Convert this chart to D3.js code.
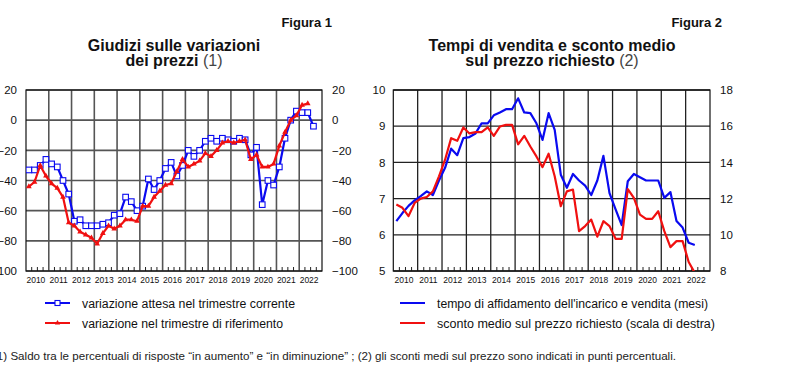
<!DOCTYPE html>
<html>
<head>
<meta charset="utf-8">
<script src="https://cdn.jsdelivr.net/npm/d3@7"></script>
<style>
  body { margin: 0; background: #fff; }
  svg { display: block; font-family: "Liberation Sans", Arial, sans-serif; }
</style>
</head>
<body>
<div id="chart"></div>
<script>
// year labels on the x axes
const yearLabels = ["2010","2011","2012","2013","2014","2015","2016","2017","2018","2019","2020","2021","2022"];

// Figura 1 - quarterly balances from 2010Q1
const attesa = [-33,-33,-30,-26,-29,-31,-40,-49,-67,-66,-70,-70,-70,-69,-68,-63,-62,-51,-54,-60,
  -57,-39,-46,-40,-32,-28,-37,-30,-20,-24,-20,-14,-12,-14,-12,-13,-14,-12,-13,-23,
  -18,-56,-40,-43,-31,-12,0,6,5,5,-4];
const riferimento = [-44,-41,-30,-37,-42,-45,-51,-68,-70,-74,-76,-78,-82,-75,-70,-72,-70,-66,-66,-67,
  -57,-57,-51,-47,-43,-42,-34,-26,-31,-29,-27,-22,-24,-20,-15,-14,-15,-14,-13,-26,
  -23,-31,-31,-29,-17,-8,0,3,10,11];
const ticks1 = [-100,-80,-60,-40,-20,0,20];

// Figura 2 - quarterly from 2010Q1
const tempo = [6.38,6.6,6.8,6.95,7.07,7.2,7.1,7.5,7.85,8.38,8.2,8.67,8.7,8.8,9.08,9.08,9.3,9.38,9.47,9.47,
  9.77,9.38,9.36,9.08,8.62,9.36,8.9,7.66,7.3,7.68,7.5,7.36,7.1,7.5,8.18,7.15,6.7,6.27,7.48,7.68,
  7.59,7.5,7.5,7.5,7.02,7.18,6.38,6.2,5.78,5.72];
const sconto = [11.67,11.49,11.03,11.76,12.0,12.09,12.4,13.23,14.15,15.34,15.19,15.93,15.6,15.67,15.67,15.94,15.47,15.98,16.07,16.07,
  15.0,15.47,14.88,14.33,13.74,14.48,13.23,11.58,12.4,12.5,10.2,10.48,10.84,9.9,10.75,10.48,9.78,9.78,12.53,12.04,
  11.12,10.88,10.88,11.3,10.2,9.32,9.65,9.65,8.5,7.9];
const ticks2L = [5,6,7,8,9,10];
const ticks2R = [8,10,12,14,16,18];

const BLUE = "#0a0af0", RED = "#f01010";
const quarterX = i => 2010 + (i + 0.5) / 4;

const svg = d3.select("#chart").append("svg")
  .attr("width", 787).attr("height", 385);

function panel(o) {
  const g = svg.append("g");
  const x = d3.scaleLinear().domain([2010, 2023]).range([o.left, o.right]);
  const yL = d3.scaleLinear().domain(o.domL).range([271, 90]);
  const yR = d3.scaleLinear().domain(o.domR).range([271, 90]);

  // grid
  g.append("g").selectAll("line").data(o.ticksL).join("line")
    .attr("x1", o.left).attr("x2", o.right)
    .attr("y1", d => yL(d)).attr("y2", d => yL(d))
    .attr("stroke", o.grid).attr("stroke-width", o.gridW);
  g.append("g").selectAll("line").data(d3.range(2011, 2023)).join("line")
    .attr("x1", d => x(d)).attr("x2", d => x(d))
    .attr("y1", 90).attr("y2", 271)
    .attr("stroke", o.grid).attr("stroke-width", o.gridW);
  // quarter ticks
  const qt = d3.range(2010, 2023).flatMap(yr => [0.25, 0.5, 0.75].map(f => yr + f));
  g.append("g").selectAll("line").data(qt).join("line")
    .attr("x1", d => x(d)).attr("x2", d => x(d))
    .attr("y1", 271).attr("y2", 267)
    .attr("stroke", "#222").attr("stroke-width", 1);
  g.append("rect").attr("x", o.left).attr("y", 90)
    .attr("width", o.right - o.left).attr("height", 181)
    .attr("fill", "none").attr("stroke", "#111").attr("stroke-width", 1.2);

  // axes
  const ax = (axis, tr) => {
    const a = g.append("g").attr("transform", tr).call(axis);
    a.select(".domain").remove();
    a.selectAll("text").attr("fill", "#111").style("font-size", "11.5px")
      .style("font-family", "'Liberation Sans', Arial, sans-serif");
    return a;
  };
  ax(d3.axisLeft(yL).tickValues(o.ticksL).tickSize(0).tickPadding(o.padL).tickFormat(d3.format("d")),
    `translate(${o.left},0)`);
  ax(d3.axisRight(yR).tickValues(o.ticksR).tickSize(0).tickPadding(10).tickFormat(d3.format("d")),
    `translate(${o.right},0)`);
  const xa = ax(d3.axisBottom(x).tickValues(d3.range(2010, 2023).map(d => d + 0.5)).tickSize(0)
      .tickPadding(6).tickFormat((d, i) => yearLabels[i]),
    `translate(-2,271)`);
  xa.selectAll("text").style("font-size", "8.5px");

  // clip
  const id = "clip" + o.n;
  svg.append("clipPath").attr("id", id).append("rect")
    .attr("x", o.left).attr("y", 90).attr("width", o.right - o.left).attr("height", 181);
  const plot = g.append("g").attr("clip-path", `url(#${id})`);

  o.series.forEach(s => {
    const y = s.axis === "R" ? yR : yL;
    plot.append("path").datum(s.values)
      .attr("fill", "none").attr("stroke", s.color).attr("stroke-width", 2.2)
      .attr("stroke-linejoin", "round")
      .attr("d", d3.line().x((d, i) => x(quarterX(i))).y(d => y(d)));
    if (s.marker === "square") {
      plot.append("g").selectAll("rect").data(s.values).join("rect")
        .attr("x", (d, i) => x(quarterX(i)) - 2.8).attr("y", d => y(d) - 2.8)
        .attr("width", 5.6).attr("height", 5.6)
        .attr("fill", "#fff").attr("stroke", s.color).attr("stroke-width", 1.1);
    } else if (s.marker === "triangle") {
      plot.append("g").selectAll("path").data(s.values).join("path")
        .attr("transform", (d, i) => `translate(${x(quarterX(i))},${y(d)})`)
        .attr("d", d3.symbol(d3.symbolTriangle, 14))
        .attr("fill", s.color);
    }
  });

  // titles
  g.append("text").attr("x", o.figX).attr("y", 27).attr("text-anchor", "end")
    .style("font-weight", "bold").style("font-size", "13px").attr("fill", "#111").text(o.fig);
  g.append("text").attr("x", o.titleX).attr("y", 50.5).attr("text-anchor", "middle")
    .style("font-weight", "bold").style("font-size", "16px").attr("fill", "#111").text(o.title[0]);
  const t2 = g.append("text").attr("x", o.titleX).attr("y", 66).attr("text-anchor", "middle")
    .style("font-size", "16px").attr("fill", "#111");
  t2.append("tspan").style("font-weight", "bold").text(o.title[1]);
  t2.append("tspan").attr("fill", "#444").text(" " + o.note);

  // legend
  o.series.forEach((s, k) => {
    const ly = 303 + k * 20;
    const lg = g.append("g");
    lg.append("line").attr("x1", o.legX).attr("x2", o.legX + 25).attr("y1", ly).attr("y2", ly)
      .attr("stroke", s.color).attr("stroke-width", 2);
    if (s.marker === "square") {
      lg.append("rect").attr("x", o.legX + 10).attr("y", ly - 2.5).attr("width", 5).attr("height", 5)
        .attr("fill", "#fff").attr("stroke", s.color).attr("stroke-width", 1.1);
    } else if (s.marker === "triangle") {
      lg.append("path").attr("transform", `translate(${o.legX + 12.5},${ly})`)
        .attr("d", d3.symbol(d3.symbolTriangle, 12)).attr("fill", s.color);
    }
    lg.append("text").attr("x", o.legTextX).attr("y", ly + 4.5).style("font-size", "12.5px")
      .attr("textLength", s.labelW).attr("lengthAdjust", "spacingAndGlyphs")
      .attr("fill", "#111").text(s.label);
  });
}

panel({
  n: 1, left: 26, right: 322, domL: [-100, 20], domR: [-100, 20],
  ticksL: ticks1, ticksR: ticks1, padL: 9, grid: "#555", gridW: 1.6,
  fig: "Figura 1", figX: 332, titleX: 174,
  title: ["Giudizi sulle variazioni", "dei prezzi"], note: "(1)",
  legX: 45, legTextX: 82,
  series: [
    { values: attesa, color: BLUE, marker: "square", axis: "L", label: "variazione attesa nel trimestre corrente", labelW: 213 },
    { values: riferimento, color: RED, marker: "triangle", axis: "L", label: "variazione nel trimestre di riferimento", labelW: 201 }
  ]
});

panel({
  n: 2, left: 393.3, right: 710, domL: [5, 10], domR: [8, 18],
  ticksL: ticks2L, ticksR: ticks2R, padL: 8, grid: "#222", gridW: 1.3,
  fig: "Figura 2", figX: 722, titleX: 552,
  title: ["Tempi di vendita e sconto medio", "sul prezzo richiesto"], note: "(2)",
  legX: 400, legTextX: 437,
  series: [
    { values: tempo, color: BLUE, axis: "L", label: "tempo di affidamento dell'incarico e vendita (mesi)", labelW: 271 },
    { values: sconto, color: RED, axis: "R", label: "sconto medio sul prezzo richiesto (scala di destra)", labelW: 278 }
  ]
});

svg.append("text").attr("x", -7).attr("y", 360).style("font-size", "11px").attr("fill", "#222")
  .attr("textLength", 683).attr("lengthAdjust", "spacingAndGlyphs")
  .text("(1) Saldo tra le percentuali di risposte \u201cin aumento\u201d e \u201cin diminuzione\u201d ; (2) gli sconti medi sul prezzo sono indicati in punti percentuali.");
</script>
</body>
</html>
